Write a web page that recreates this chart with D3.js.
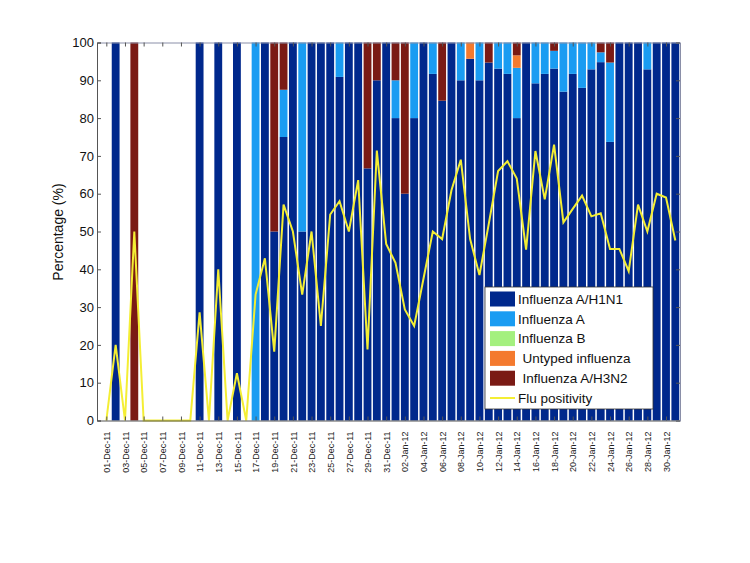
<!DOCTYPE html>
<html>
<head>
<meta charset="utf-8">
<script src="https://cdn.jsdelivr.net/npm/d3@7"></script>
<style>
  html, body { margin: 0; padding: 0; background: #fff; }
  svg { display: block; font-family: "Liberation Sans", Arial, Helvetica, sans-serif; }
</style>
</head>
<body>
<svg id="chart" width="750" height="563"></svg>
<script>
// ---------- DATA ----------
const dates = [
  "01-Dec-11","02-Dec-11","03-Dec-11","04-Dec-11","05-Dec-11","06-Dec-11","07-Dec-11","08-Dec-11","09-Dec-11","10-Dec-11",
  "11-Dec-11","12-Dec-11","13-Dec-11","14-Dec-11","15-Dec-11","16-Dec-11","17-Dec-11","18-Dec-11","19-Dec-11","20-Dec-11",
  "21-Dec-11","22-Dec-11","23-Dec-11","24-Dec-11","25-Dec-11","26-Dec-11","27-Dec-11","28-Dec-11","29-Dec-11","30-Dec-11",
  "31-Dec-11","01-Jan-12","02-Jan-12","03-Jan-12","04-Jan-12","05-Jan-12","06-Jan-12","07-Jan-12","08-Jan-12","09-Jan-12",
  "10-Jan-12","11-Jan-12","12-Jan-12","13-Jan-12","14-Jan-12","15-Jan-12","16-Jan-12","17-Jan-12","18-Jan-12","19-Jan-12",
  "20-Jan-12","21-Jan-12","22-Jan-12","23-Jan-12","24-Jan-12","25-Jan-12","26-Jan-12","27-Jan-12","28-Jan-12","29-Jan-12",
  "30-Jan-12","31-Jan-12"
];

const tickLabels = [
  "01-Dec-11","03-Dec-11","05-Dec-11","07-Dec-11","09-Dec-11","11-Dec-11","13-Dec-11","15-Dec-11",
  "17-Dec-11","19-Dec-11","21-Dec-11","23-Dec-11","25-Dec-11","27-Dec-11","29-Dec-11","31-Dec-11",
  "02-Jan-12","04-Jan-12","06-Jan-12","08-Jan-12","10-Jan-12","12-Jan-12","14-Jan-12","16-Jan-12",
  "18-Jan-12","20-Jan-12","22-Jan-12","24-Jan-12","26-Jan-12","28-Jan-12","30-Jan-12"
];

const yTicks = [0, 10, 20, 30, 40, 50, 60, 70, 80, 90, 100];

const h1n1 = [
  0,100,0,0,0,0,0,0,0,0,
  100,0,100,0,100,0,0,100,50,75,
  100,50,100,100,100,90.9,100,100,66.7,90,
  100,80,60,80,100,91.7,84.6,100,90,95.7,
  90,94.7,93.1,91.7,80,100,89.2,91.7,93.1,87,
  91.7,88,92.9,94.8,73.7,100,100,100,92.9,100,
  100,100
];
const fluA = [
  0,0,0,0,0,0,0,0,0,0,
  0,0,0,0,0,0,100,0,0,12.5,
  0,50,0,0,0,9.1,0,0,0,0,
  0,10,0,20,0,8.3,0,0,10,0,
  10,0,6.9,8.3,13.3,0,10.8,8.3,4.7,13,
  8.3,12,7.1,2.6,21,0,0,0,7.1,0,
  0,0
];
const fluB = [
  0,0,0,0,0,0,0,0,0,0,
  0,0,0,0,0,0,0,0,0,0,
  0,0,0,0,0,0,0,0,0,0,
  0,0,0,0,0,0,0,0,0,0,
  0,0,0,0,0,0,0,0,0,0,
  0,0,0,0,0,0,0,0,0,0,
  0,0
];
const untyped = [
  0,0,0,0,0,0,0,0,0,0,
  0,0,0,0,0,0,0,0,0,0,
  0,0,0,0,0,0,0,0,0,0,
  0,0,0,0,0,0,0,0,0,4.3,
  0,0,0,0,3.3,0,0,0,0,0,
  0,0,0,0,0,0,0,0,0,0,
  0,0
];
const h3n2 = [
  0,0,0,100,0,0,0,0,0,0,
  0,0,0,0,0,0,0,0,50,12.5,
  0,0,0,0,0,0,0,0,33.3,10,
  0,10,40,0,0,0,15.4,0,0,0,
  0,5.3,0,0,3.4,0,0,0,2.2,0,
  0,0,0,2.6,5.3,0,0,0,0,0,
  0,0
];
const positivity = [
  0,20,0,50,0,0,0,0,0,0,
  28.6,0,40,0,12.5,0,33.3,42.9,18.2,57.1,
  50,33.3,50,25,54.5,58,50,63.6,18.8,71.4,
  46.7,41.7,29.4,25,37.5,50,48,60.9,69,48,
  38.5,52,66,68.6,64,45.2,71.3,58.5,73,52.4,
  56,59.5,54,54.8,45.4,45.4,39.5,57.1,50,60,
  59,47.6
];

const seriesNames = ["Influenza A/H1N1", "Influenza A", "Influenza B", "Untyped influenza", "Influenza A/H3N2"];
const seriesColors = ["#00288c", "#1a9cf2", "#a4f07e", "#f47a2e", "#7a1a14"];
const lineName = "Flu positivity";
const lineColor = "#f4ee34";

// ---------- BUILD ----------
const keys = ["h1n1", "fluA", "fluB", "untyped", "h3n2"];
const table = dates.map((d, i) => ({
  day: i + 1, date: d,
  h1n1: h1n1[i], fluA: fluA[i], fluB: fluB[i], untyped: untyped[i], h3n2: h3n2[i],
  pos: positivity[i]
}));

const svg = d3.select("#chart");
const M = { left: 97, right: 680, top: 42.5, bottom: 420.5 };

const x = d3.scaleLinear().domain([0, 62.5]).range([M.left, M.right]);
const y = d3.scaleLinear().domain([0, 100]).range([M.bottom, M.top]);
const color = d3.scaleOrdinal().domain(keys).range(seriesColors);

const stacked = d3.stack().keys(keys)(table);
const dayW = x(1) - x(0);
const barW = dayW * 0.84;

const gBars = svg.append("g");
gBars.selectAll("g.series")
  .data(stacked)
  .join("g")
  .attr("class", "series")
  .attr("fill", s => color(s.key))
  .selectAll("rect")
  .data(s => s.filter(p => p[1] - p[0] > 0))
  .join("rect")
  .attr("x", p => x(p.data.day) - barW / 2)
  .attr("width", barW)
  .attr("y", p => y(p[1]))
  .attr("height", p => y(p[0]) - y(p[1]));

// positivity line
const line = d3.line().x(d => x(d.day)).y(d => y(d.pos));
svg.append("path")
  .datum(table)
  .attr("fill", "none")
  .attr("stroke", lineColor)
  .attr("stroke-width", 2)
  .attr("stroke-linejoin", "miter")
  .attr("d", line);

// ---------- AXES ----------
const tickDays = tickLabels.map((t, i) => 1 + 2 * i);
const axisCol = "#555";

const xAxisB = d3.axisBottom(x).tickValues(tickDays).tickSize(-4)
  .tickFormat((d, i) => tickLabels[i]);
const gxb = svg.append("g").attr("transform", `translate(0,${M.bottom})`).call(xAxisB);
gxb.selectAll("text")
  .attr("transform", "rotate(-90)")
  .attr("x", -11).attr("y", 0).attr("dy", "0.35em")
  .attr("text-anchor", "end")
  .attr("fill", "#222")
  .style("font-size", "9px");

const gxt = svg.append("g").attr("transform", `translate(0,${M.top})`)
  .call(d3.axisTop(x).tickValues(tickDays).tickSize(-4).tickFormat(""));

const gyl = svg.append("g").attr("transform", `translate(${M.left},0)`)
  .call(d3.axisLeft(y).tickValues(yTicks).tickSize(-4).tickPadding(3));
gyl.selectAll("text").attr("fill", "#111").style("font-size", "13px");

const gyr = svg.append("g").attr("transform", `translate(${M.right},0)`)
  .call(d3.axisRight(y).tickValues(yTicks).tickSize(-4).tickFormat(""));

[gxb, gxt, gyl, gyr].forEach(g => {
  g.select(".domain").attr("stroke", axisCol).attr("stroke-width", 1);
  g.selectAll(".tick line").attr("stroke", axisCol);
});
gxt.select(".domain").attr("stroke", "#8a8fa8");
gyr.select(".domain").attr("stroke", "#8a8fa8");

// y label
svg.append("text")
  .attr("transform", "translate(58,232) rotate(-90)")
  .attr("text-anchor", "middle")
  .attr("dy", "0.35em")
  .style("font-size", "14px")
  .attr("fill", "#111")
  .text("Percentage (%)");

// ---------- LEGEND ----------
const lg = svg.append("g").attr("transform", "translate(485,287)");
lg.append("rect")
  .attr("width", 168).attr("height", 122)
  .attr("fill", "#fff").attr("stroke", "#333").attr("stroke-width", 0.8);
const rowY = i => 12 + i * 19.8;
const textIndent = [0, 0, 0, 4.5, 4.5];
seriesNames.forEach((name, i) => {
  lg.append("rect")
    .attr("x", 5).attr("y", rowY(i) - 7.5)
    .attr("width", 25).attr("height", 15)
    .attr("fill", seriesColors[i]);
  lg.append("text")
    .attr("x", 33 + textIndent[i]).attr("y", rowY(i))
    .attr("dy", "0.35em")
    .style("font-size", "13.5px")
    .attr("fill", "#111")
    .text(name);
});
lg.append("line")
  .attr("x1", 5).attr("x2", 30)
  .attr("y1", rowY(5)).attr("y2", rowY(5))
  .attr("stroke", lineColor).attr("stroke-width", 2);
lg.append("text")
  .attr("x", 33).attr("y", rowY(5))
  .attr("dy", "0.35em")
  .style("font-size", "13.5px")
  .attr("fill", "#111")
  .text(lineName);
</script>
</body>
</html>
